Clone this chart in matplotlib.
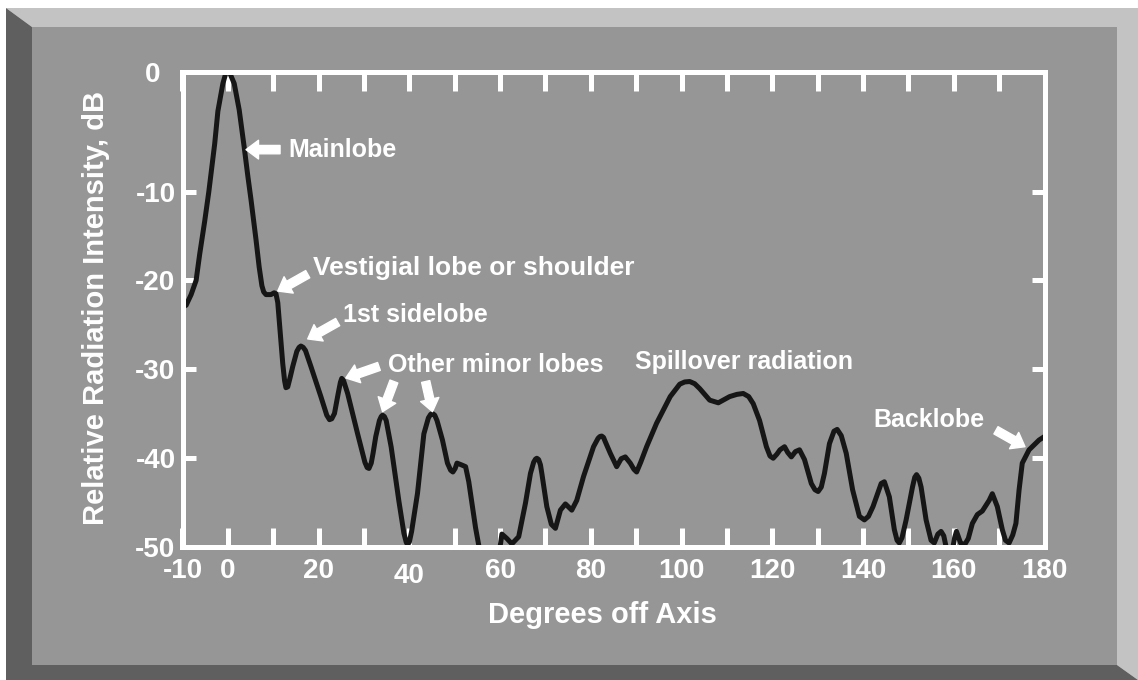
import numpy as np
import matplotlib
matplotlib.use("Agg")
import matplotlib.pyplot as plt
from matplotlib.patches import Polygon
from matplotlib.transforms import ScaledTranslation

plt.rcParams['font.family'] = ['Liberation Sans', 'DejaVu Sans']
plt.rcParams['font.weight'] = 'bold'

# antenna pattern (degrees off axis, dB)
deg = [-10, -9.2, -8.1, -7.0, -6.2, -5.1, -4.2, -2.9, -2.2, -1.1, -0.5, 0,
       0.5, 1.4, 2.5, 3.6, 4.4, 5.1, 6.2, 6.9, 7.5, 7.9, 8.4, 9.5, 10.2, 10.6, 11.0,
       11.4, 12.1, 12.5, 12.8, 13.2, 13.7, 14.3, 15.2, 15.7, 16.1, 16.6, 17.1, 18.3, 20.5, 21.8,
       22.4, 22.9, 23.5, 24.3, 24.8, 25.1, 25.5, 26.4, 28.6, 30.2, 30.7, 31.1, 31.6, 32.0, 32.6,
       33.4, 33.8, 34.1, 34.5, 34.9, 36.0, 37.7, 38.8, 39.3, 39.6, 40.0, 40.5, 41.8, 43.2, 44.2,
       44.7, 45.1, 45.6, 46.1, 47.3, 48.4, 49.1, 49.6, 50.1, 50.5, 51.5, 52.4, 53.1, 54.6, 55.7,
       57.0, 58.5, 59.6, 60.4, 61.5, 62.6, 64.1, 65.6, 66.7, 67.4, 67.8, 68.1,
       68.5, 68.9, 69.2, 70.3, 71.3, 72.2, 73.3, 74.4, 75.8, 76.9, 78.4, 80.6,
       81.6, 82.0, 82.4, 82.8, 83.2, 84.3, 85.7, 86.7, 87.6, 88.7, 89.5, 90.1, 91.0, 92.3,
       94.5, 97.5, 99.6, 100.7, 101.8, 102.9, 104.0, 106.2, 108.1, 110.6, 112.2, 113.6, 114.8, 115.8,
       117.2, 118.7, 119.5, 120.2, 121.0, 121.7, 122.7, 123.4, 124.2, 125.1, 126.0, 127.1, 128.6, 129.4, 130.1,
       130.8, 131.5, 132.6, 133.6, 134.3, 135.2, 136.3, 137.7, 139.2, 140.3, 141.2, 142.2,
       144.0, 144.7, 145.8, 146.9, 147.5, 148.0, 148.6, 149.5, 150.9, 151.4, 151.8, 152.3, 152.8, 153.9,
       155.0, 155.7, 156.5, 157.2, 157.8, 158.5, 159.3, 160.2, 160.6, 161.5,
       162.4, 163.2, 164.1, 165.2, 166.3, 167.8, 168.5, 169.6, 170.7, 171.4,
       172.2, 173.0, 173.7, 174.4, 175.1, 176.6, 178.8, 180]
db = [-23.0, -22.8, -21.6, -20.0, -17.0, -13.3, -10.0, -6.0, -3.3, -1.0, -0.2, 0,
      -0.2, -1.0, -3.2, -6.3, -8.7, -10.9, -15.4, -18.5, -20.6, -21.3, -21.6, -21.6, -21.4, -21.5, -22.5,
      -25.0, -29.4, -31.3, -32.1, -32.0, -31.0, -29.7, -28.0, -27.55, -27.4, -27.55, -27.9, -29.7, -33.1, -35.2,
      -35.7, -35.6, -35.0, -32.8, -31.5, -31.05, -31.3, -32.75, -37.3, -40.5, -41.1, -41.2, -40.6, -39.5, -37.6,
      -35.8, -35.35, -35.2, -35.35, -35.8, -38.8, -44.9, -48.5, -49.5, -49.8, -49.5, -48.3, -44.0, -37.3, -35.5,
      -35.1, -35.0, -35.2, -35.8, -38.0, -40.6, -41.4, -41.6, -41.2, -40.6, -40.8, -41.0, -42.7, -47.9, -51.0,
      -54.0, -54.0, -51.5, -48.6, -49.1, -49.7, -48.9, -45.1, -41.75, -40.5, -40.15, -40.05,
      -40.2, -40.8, -41.75, -45.5, -47.5, -47.95, -45.9, -45.2, -45.9, -44.8, -42.1, -38.75,
      -37.8, -37.6, -37.55, -37.7, -38.2, -39.5, -41.0, -40.1, -39.9, -40.6, -41.3, -41.6, -40.5, -38.75,
      -36.1, -33.1, -31.7, -31.45, -31.4, -31.65, -32.2, -33.5, -33.8, -33.1, -32.85, -32.75, -33.1, -33.9,
      -35.8, -38.75, -39.8, -40.05, -39.6, -39.1, -38.75, -39.4, -39.9, -39.3, -39.1, -40.2, -42.9, -43.6, -43.8,
      -43.3, -41.75, -38.4, -37.0, -36.8, -37.5, -39.5, -43.6, -46.6, -47.0, -46.6, -45.5,
      -42.9, -42.7, -44.4, -48.1, -49.3, -49.6, -49.0, -47.0, -43.3, -42.2, -41.9, -42.3, -43.3, -47.0,
      -49.3, -49.6, -48.6, -48.3, -48.8, -50.5, -51.5, -49.0, -48.3, -49.6,
      -49.8, -49.1, -47.4, -46.4, -46.0, -44.8, -44.05, -45.5, -48.1, -49.3,
      -49.6, -48.7, -47.4, -43.6, -40.6, -39.1, -38.0, -37.6]

x_major = [-10, 0, 20, 40, 60, 80, 100, 120, 140, 160, 180]
x_minor = [10, 30, 50, 70, 90, 110, 130, 150, 170]
y_ticks = [-50, -40, -30, -20, -10, 0]

# callouts: text, text position, font size, arrow tail, arrow tip
notes = ["Mainlobe", "Vestigial lobe or shoulder", "1st sidelobe",
         "Other minor lobes", "Spillover radiation", "Backlobe"]
note_pos = [(13.3, -6.5), (18.7, -18.6), (25.3, -23.9), (35.2, -29.5),
            (89.7, -29.2), (142.2, -35.7)]
note_size = [18, 19, 18, 18, 18, 18]
arrow_tail = [(11.5, -6.5), (17.6, -19.3), (24.2, -24.7), (33.3, -29.7),
              (36.6, -31.4), (43.6, -31.4), (169.3, -36.9)]
arrow_tip = [(4.0, -6.5), (11.0, -21.2), (17.6, -26.6), (26.0, -31.0),
             (34.1, -34.8), (45.1, -34.8), (175.7, -38.75)]

# the 0..-10 dB band is drawn taller than the others in the original
k = 1.355


def fwd(y):
    y = np.asarray(y, dtype=float)
    return np.where(y > -10, -10 + (y + 10) * k, y)


def inv(y):
    y = np.asarray(y, dtype=float)
    return np.where(y > -10, -10 + (y + 10) / k, y)


W, H = 1138, 680
fig = plt.figure(figsize=(W / 100, H / 100), dpi=100)
fig.patch.set_facecolor('white')


def fp(x, y):
    return (x / W, 1 - y / H)


# bevelled grey panel behind the axes
fig.add_artist(Polygon([fp(6, 8), fp(1138, 8), fp(1138, 680), fp(1117, 665),
                        fp(1117, 27), fp(32, 27)],
                       closed=True, transform=fig.transFigure, zorder=-3,
                       facecolor='#c3c3c3', edgecolor='none'))
fig.add_artist(Polygon([fp(6, 8), fp(32, 27), fp(32, 665), fp(1117, 665),
                        fp(1138, 680), fp(6, 680)],
                       closed=True, transform=fig.transFigure, zorder=-3,
                       facecolor='#5f5f5f', edgecolor='none'))
fig.add_artist(Polygon([fp(32, 27), fp(1117, 27), fp(1117, 665), fp(32, 665)],
                       closed=True, transform=fig.transFigure, zorder=-3,
                       facecolor='#969696', edgecolor='none'))

ax = fig.add_axes([182.5 / W, 1 - 546.5 / H, 862 / W, 475 / H])
ax.set_facecolor('#969696')
ax.set_yscale('function', functions=(fwd, inv))

ax.plot(deg, db, color='#161616', lw=3.6, solid_joinstyle='round')

ax.set_xlim(-10, 180)
ax.set_ylim(-50, 0)
ax.set_xticks(x_major)
ax.set_xticklabels([str(v) for v in x_major])
ax.set_xticks(x_minor, minor=True)
ax.set_yticks(y_ticks)
ax.set_yticklabels([str(v) for v in y_ticks])
ax.yaxis.set_minor_locator(matplotlib.ticker.NullLocator())

for s in ax.spines.values():
    s.set_color('white')
    s.set_linewidth(3.6)

ax.tick_params(axis='x', which='both', direction='in', length=13.7, width=3.6,
               color='white', top=True, bottom=True, labelcolor='white',
               labelsize=20, pad=8)
ax.tick_params(axis='y', which='both', direction='in', length=9.4, width=3.6,
               color='white', left=True, right=True, labelcolor='white',
               labelsize=20, pad=5)

# small quirks of the original tick labels
for lab in ax.get_xticklabels():
    if lab.get_text() == '40':
        lab.set_transform(lab.get_transform() + ScaledTranslation(0, -0.05, fig.dpi_scale_trans))
for lab in ax.get_yticklabels():
    if lab.get_text() == '0':
        lab.set_transform(lab.get_transform() + ScaledTranslation(-0.15, 0, fig.dpi_scale_trans))

ax.set_xlabel("Degrees off Axis", color='white', fontsize=21, fontweight='bold', va='center')
ax.xaxis.set_label_coords(0.487, -0.145)
ax.set_ylabel("Relative Radiation Intensity, dB", color='white', fontsize=21,
              fontweight='bold', va='center')
ax.yaxis.set_label_coords(-0.1003, 0.502)

for txt, (tx, ty), fs in zip(notes, note_pos, note_size):
    ax.text(tx, ty, txt, color='white', fontsize=fs, ha='left', va='center')

for (x0, y0), (x1, y1) in zip(arrow_tail, arrow_tip):
    ax.annotate("", xy=(x1, y1), xytext=(x0, y0),
                arrowprops=dict(arrowstyle='simple,head_length=0.9,head_width=1.35,tail_width=0.6',
                                color='white', shrinkA=0, shrinkB=0, mutation_scale=10))

fig.savefig("out.png", dpi=100)
